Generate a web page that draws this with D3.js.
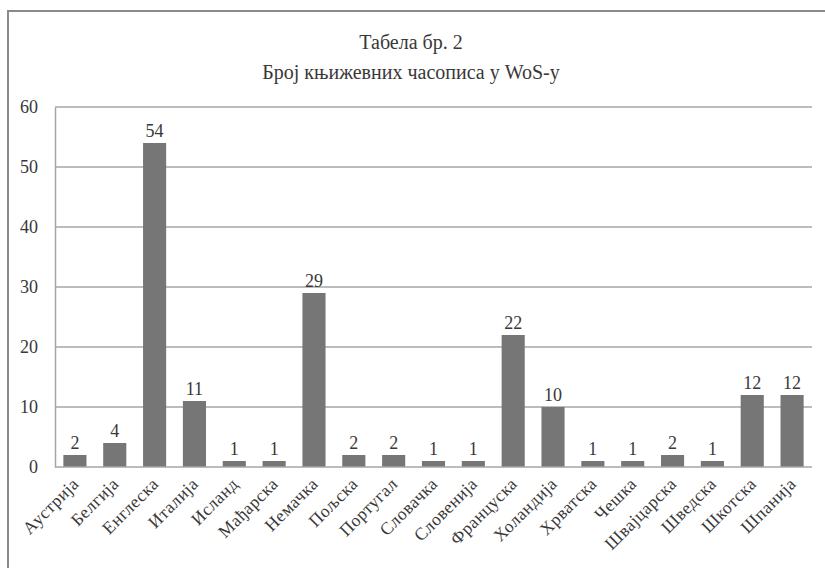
<!DOCTYPE html>
<html>
<head>
<meta charset="utf-8">
<script src="https://cdn.jsdelivr.net/npm/d3@7/dist/d3.min.js"></script>
<style>
  body { margin: 0; background: #fff; }
  svg { display: block; }
  text { font-family: "Liberation Serif", "DejaVu Serif", serif; fill: #383838; }
</style>
</head>
<body>
<svg id="canvas" width="825" height="568"></svg>
<script>
    "use strict";

    // Data
    var countries = ["Аустрија", "Белгија", "Енглеска", "Италија", "Исланд", "Мађарска", "Немачка",
        "Пољска", "Португал", "Словачка", "Словенија", "Француска", "Холандија", "Хрватска",
        "Чешка", "Швајцарска", "Шведска", "Шкотска", "Шпанија"];
    var journals = [2, 4, 54, 11, 1, 1, 29, 2, 2, 1, 1, 22, 10, 1, 1, 2, 1, 12, 12];
    var yTicks = [0, 10, 20, 30, 40, 50, 60];
    var titleLines = ["Табела бр. 2", "Број књижевних часописа у WoS-у"];

    var svg = d3.select("#canvas");

    var LEFT = 55, RIGHT = 812, TOP = 107, BOTTOM = 467;

    // outer frame (runs off the right and bottom edge like the scan)
    svg.append("rect")
        .attr("x", 8).attr("y", 11)
        .attr("width", 840).attr("height", 600)
        .attr("fill", "none")
        .attr("stroke", "#8a8a8a")
        .attr("stroke-width", 2);

    svg.selectAll("text.title")
        .data(titleLines)
        .enter().append("text")
        .attr("class", "title")
        .attr("x", 411)
        .attr("y", function(d, i) { return 49 + i * 30; })
        .attr("text-anchor", "middle")
        .attr("font-size", "20px")
        .text(function(d) { return d; });

    var x = d3.scaleBand()
        .domain(countries)
        .range([LEFT, RIGHT])
        .paddingInner(0.42)
        .paddingOuter(0.21);

    var y = d3.scaleLinear()
        .domain([0, 60])
        .range([BOTTOM, TOP]);

    // gridlines
    svg.append("g")
        .selectAll("line")
        .data(yTicks.filter(function(t) { return t > 0; }))
        .enter().append("line")
        .attr("x1", LEFT).attr("x2", RIGHT)
        .attr("y1", function(d) { return y(d); })
        .attr("y2", function(d) { return y(d); })
        .attr("stroke", "#a6a6a6")
        .attr("stroke-width", 1.5);

    // y axis
    var yAxis = svg.append("g")
        .attr("transform", "translate(" + LEFT + ",0)")
        .call(d3.axisLeft(y).tickValues(yTicks).tickSize(0).tickPadding(17));
    yAxis.select(".domain").attr("stroke", "#a6a6a6").attr("stroke-width", 1.5);
    yAxis.selectAll("text")
        .attr("font-size", "18px");

    // bars
    svg.selectAll("rect.bar")
        .data(journals)
        .enter().append("rect")
        .attr("class", "bar")
        .attr("x", function(d, i) { return x(countries[i]); })
        .attr("y", function(d) { return y(d); })
        .attr("width", x.bandwidth())
        .attr("height", function(d) { return BOTTOM - y(d); })
        .attr("fill", "#767676");

    // baseline
    svg.append("line")
        .attr("x1", LEFT).attr("x2", RIGHT)
        .attr("y1", y(0)).attr("y2", y(0))
        .attr("stroke", "#a6a6a6")
        .attr("stroke-width", 1.5);

    // value labels
    svg.selectAll("text.value")
        .data(journals)
        .enter().append("text")
        .attr("class", "value")
        .attr("x", function(d, i) { return x(countries[i]) + x.bandwidth() / 2; })
        .attr("y", function(d) { return y(d) - 6; })
        .attr("text-anchor", "middle")
        .attr("font-size", "18px")
        .text(function(d) { return d; });

    // category labels, rotated
    svg.selectAll("text.cat")
        .data(countries)
        .enter().append("text")
        .attr("class", "cat")
        .attr("text-anchor", "end")
        .attr("font-size", "17.5px")
        .attr("letter-spacing", "0.5px")
        .attr("transform", function(d) {
            var cx = x(d) + x.bandwidth() / 2 + 5;
            return "translate(" + cx + ",485) rotate(-45)";
        })
        .text(function(d) { return d; });
</script>
</body>
</html>
